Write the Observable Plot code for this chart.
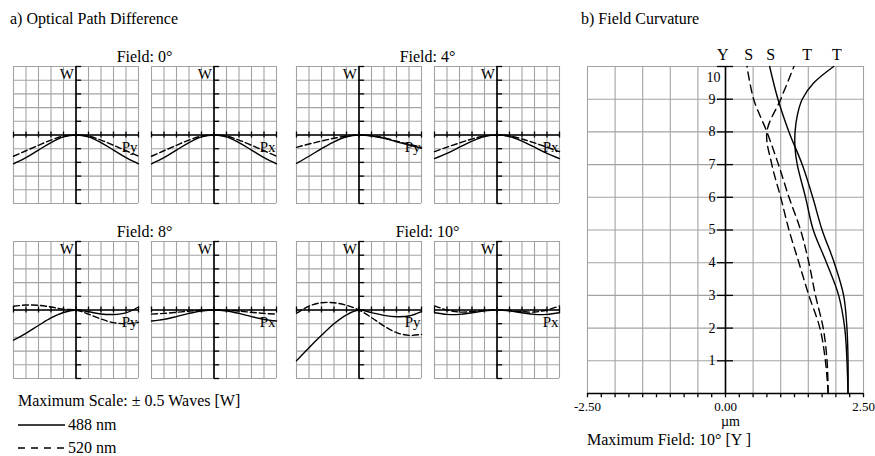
<!DOCTYPE html>
<html><head><meta charset="utf-8">
<script src="https://cdn.jsdelivr.net/npm/d3@7"></script>
<script src="https://cdn.jsdelivr.net/npm/@observablehq/plot@0.6"></script>
<style>
html,body{margin:0;padding:0;background:#fff;}
#fig{position:relative;width:875px;height:456px;overflow:hidden;font-family:"Liberation Serif","Times New Roman",serif;color:#000;}
.lbl{position:absolute;white-space:nowrap;font-size:16px;line-height:1;}
.c{transform:translate(-50%,-50%);}
.l{transform:translate(0,-50%);}
.panel{position:absolute;}
</style></head><body><div id="fig"></div>
<script>
// ---------- data ----------
const pupil = [-1, -0.8, -0.6, -0.4, -0.2, 0, 0.2, 0.4, 0.6, 0.8, 1];
const pupilGrid = [-1, -0.8, -0.6, -0.4, -0.2, 0, 0.2, 0.4, 0.6, 0.8, 1];
const waveGrid = [-0.5, -0.4, -0.3, -0.2, -0.1, 0, 0.1, 0.2, 0.3, 0.4, 0.5];
const fieldTitles = ["Field: 0°", "Field: 4°", "Field: 8°", "Field: 10°"];

// OPD (waves) vs pupil coordinate, 488 nm (solid) and 520 nm (dashed)
const f0Py488 = [-0.21, -0.165, -0.11, -0.055, -0.014, 0, -0.014, -0.055, -0.11, -0.165, -0.21];
const f0Py520 = [-0.155, -0.115, -0.075, -0.037, -0.008, 0, -0.008, -0.037, -0.075, -0.115, -0.155];
const f0Px488 = [-0.21, -0.165, -0.11, -0.055, -0.014, 0, -0.014, -0.055, -0.11, -0.165, -0.21];
const f0Px520 = [-0.155, -0.115, -0.075, -0.037, -0.008, 0, -0.008, -0.037, -0.075, -0.115, -0.155];
const f4Py488 = [-0.207, -0.155, -0.1, -0.05, -0.013, 0, -0.007, -0.024, -0.049, -0.073, -0.097];
const f4Py520 = [-0.09, -0.066, -0.044, -0.024, -0.007, 0, -0.005, -0.02, -0.045, -0.068, -0.09];
const f4Px488 = [-0.172, -0.134, -0.089, -0.045, -0.011, 0, -0.011, -0.045, -0.089, -0.134, -0.172];
const f4Px520 = [-0.122, -0.089, -0.058, -0.029, -0.006, 0, -0.006, -0.029, -0.058, -0.089, -0.122];
const f8Py488 = [-0.22, -0.17, -0.113, -0.058, -0.018, 0, -0.013, -0.029, -0.033, -0.021, 0.022];
const f8Py520 = [0.027, 0.036, 0.034, 0.022, 0.006, 0, -0.03, -0.066, -0.092, -0.1, -0.09];
const f8Px488 = [-0.08, -0.068, -0.048, -0.025, -0.007, 0, -0.007, -0.025, -0.048, -0.068, -0.08];
const f8Px520 = [-0.03, -0.025, -0.017, -0.008, -0.002, 0, -0.002, -0.008, -0.017, -0.025, -0.03];
const f10Py488 = [-0.37, -0.275, -0.185, -0.1, -0.035, 0, -0.019, -0.039, -0.049, -0.044, -0.012];
const f10Py520 = [-0.024, 0.029, 0.053, 0.053, 0.034, 0, -0.055, -0.117, -0.165, -0.185, -0.178];
const f10Px488 = [-0.02, -0.032, -0.032, -0.02, -0.006, 0, -0.006, -0.02, -0.032, -0.032, -0.02];
const f10Px520 = [0.03, 0.0, -0.015, -0.012, -0.004, 0, -0.004, -0.012, -0.015, 0.0, 0.03];

// Field curvature (µm) vs field (deg)
const fieldDeg = [0, 1, 2, 3, 4, 5, 6, 7, 8, 9, 10];
const fieldHalf = [0, 1, 2, 3, 4, 5, 6, 7, 7.5, 8, 8.5, 9, 9.5, 10];
const sag488 = [2.22, 2.22, 2.20, 2.14, 1.97, 1.75, 1.58, 1.39, 1.15, 0.95, 0.80];
const tan488 = [2.22, 2.20, 2.16, 2.05, 1.83, 1.59, 1.45, 1.30, 1.26, 1.26, 1.30, 1.39, 1.60, 1.96];
const sag520 = [1.86, 1.84, 1.77, 1.63, 1.51, 1.36, 1.15, 0.96, 0.75, 0.51, 0.39];
const tan520 = [1.86, 1.81, 1.71, 1.51, 1.33, 1.15, 1.0, 0.84, 0.75, 1.0, 1.24];
const umGrid = [-2.5, -2, -1.5, -1, -0.5, 0, 0.5, 1, 1.5, 2, 2.5];
const umTicks = d3.range(-2.5, 2.5001, 0.25);
const umLabels = [-2.5, 0, 2.5];
const fieldTicks = [1, 2, 3, 4, 5, 6, 7, 8, 9, 10];
const headerLabels = ["Y", "S", "S", "T", "T"];
const headerAt = [-0.05, 0.42, 0.82, 1.48, 2.02];

// ---------- layout ----------
const fig = document.getElementById("fig");
const FONT = '"Liberation Serif","Times New Roman",serif';
function label(text, x, y, cls, size) {
  const d = document.createElement("div");
  d.className = "lbl " + cls;
  d.style.left = x + "px"; d.style.top = y + "px";
  if (size) d.style.fontSize = size + "px";
  d.textContent = text;
  fig.appendChild(d);
}
function place(node, x, y) {
  node.classList.add("panel");
  node.style.left = x + "px"; node.style.top = y + "px";
  fig.appendChild(node);
}

const GRID = "#a3a3a3";
function opdPanel(w488, w520, axisName) {
  const p488 = pupil.map((p, i) => ({p, w: w488[i]}));
  const p520 = pupil.map((p, i) => ({p, w: w520[i]}));
  return Plot.plot({
    width: 125, height: 137, margin: 0,
    style: {overflow: "visible", background: "transparent", fontFamily: FONT},
    x: {domain: [-1, 1], axis: null},
    y: {domain: [-0.5, 0.5], axis: null},
    marks: [
      Plot.ruleX(pupilGrid, {stroke: GRID, strokeWidth: 1.1}),
      Plot.ruleY(waveGrid, {stroke: GRID, strokeWidth: 1.1}),
      Plot.ruleY([0], {stroke: "#000", strokeWidth: 1.6}),
      Plot.ruleX([0], {stroke: "#000", strokeWidth: 1.6}),
      Plot.ruleX(pupilGrid, {x: d => d, y1: -0.022, y2: 0.022, stroke: "#000", strokeWidth: 1.3}),
      Plot.ruleY(waveGrid, {y: d => d, x1: 0, x2: 0.09, stroke: "#000", strokeWidth: 1.3}),
      Plot.line(p488, {x: "p", y: "w", curve: "catmull-rom", stroke: "#000", strokeWidth: 1.4}),
      Plot.line(p520, {x: "p", y: "w", curve: "catmull-rom", stroke: "#000", strokeWidth: 1.4, strokeDasharray: "6,3"}),
      Plot.text(["W"], {x: 0, frameAnchor: "top", text: d => d, dx: -2, dy: 8, textAnchor: "end", lineAnchor: "middle", fontSize: 15, fill: "#000"}),
      Plot.text([axisName], {x: 1, y: -0.09, text: d => d, dx: -1, textAnchor: "end", fontSize: 15, fill: "#000"})
    ]
  });
}

const panels = [
  [f0Py488, f0Py520, "Py"], [f0Px488, f0Px520, "Px"], [f4Py488, f4Py520, "Py"], [f4Px488, f4Px520, "Px"],
  [f8Py488, f8Py520, "Py"], [f8Px488, f8Px520, "Px"], [f10Py488, f10Py520, "Py"], [f10Px488, f10Px520, "Px"]
];
const panelLeft = [13, 151, 296, 434];
const panelTop = [66, 241];
panels.forEach((d, i) => {
  place(opdPanel(d[0], d[1], d[2]), panelLeft[i % 4], panelTop[Math.floor(i / 4)]);
});
fieldTitles.forEach((t, i) => {
  const col = (i % 2) * 2;
  const cx = (panelLeft[col] + panelLeft[col + 1] + 125) / 2;
  label(t, cx, panelTop[Math.floor(i / 2)] - 9, "c", 16);
});

label("a) Optical Path Difference", 10, 19, "l", 16);
label("b) Field Curvature", 581, 19, "l", 16);
label("Maximum Scale: ± 0.5 Waves [W]", 18, 401, "l", 16);
label("488 nm", 68, 425, "l", 16);
label("520 nm", 68, 448, "l", 16);

// legend swatches
const ns = "http://www.w3.org/2000/svg";
const sw = document.createElementNS(ns, "svg");
sw.setAttribute("width", 60); sw.setAttribute("height", 40);
sw.style.position = "absolute"; sw.style.left = "10px"; sw.style.top = "415px";
[[10, null], [33, "7,6"]].forEach(([y, dash]) => {
  const l = document.createElementNS(ns, "line");
  l.setAttribute("x1", 8); l.setAttribute("x2", 55); l.setAttribute("y1", y); l.setAttribute("y2", y);
  l.setAttribute("stroke", "#000"); l.setAttribute("stroke-width", 1.6);
  if (dash) l.setAttribute("stroke-dasharray", dash);
  sw.appendChild(l);
});
fig.appendChild(sw);

// field curvature
const fc = Plot.plot({
  width: 336, height: 427, marginLeft: 40, marginRight: 20, marginTop: 40, marginBottom: 60,
  style: {overflow: "visible", background: "transparent", fontFamily: FONT},
  x: {domain: [-2.5, 2.5], axis: null},
  y: {domain: [0, 10], axis: null},
  marks: [
    Plot.ruleX(umGrid, {stroke: GRID, strokeWidth: 1.1}),
    Plot.ruleY(fieldDeg, {stroke: GRID, strokeWidth: 1.1}),
    Plot.ruleX([0], {y1: 0, y2: 10, stroke: "#000", strokeWidth: 1.6}),
    Plot.ruleY([0], {stroke: "#000", strokeWidth: 1.6}),
    Plot.ruleX(umTicks, {x: d => d, y1: 0, y2: -0.13, stroke: "#000", strokeWidth: 1.3}),
    Plot.ruleY(fieldTicks, {y: d => d, x1: -0.145, x2: 0.145, stroke: "#000", strokeWidth: 1.3}),
    Plot.text(fieldTicks.filter(d => d < 10), {x: 0, y: d => d, text: d => String(d), dx: -10, textAnchor: "end", fontSize: 14, fill: "#000"}),
    Plot.text(fieldTicks.filter(d => d === 10), {x: 0, y: d => d, text: d => String(d), dx: -5, dy: 11, textAnchor: "end", fontSize: 14, fill: "#000"}),
    Plot.text(umLabels, {x: d => d, y: 0, text: d => d.toFixed(2), dy: 13, fontSize: 13, fill: "#000"}),
    Plot.text(["µm"], {x: 0, y: 0, text: d => d, dx: 5, dy: 28, fontSize: 14, fill: "#000"}),
    Plot.text(headerLabels, {x: (d, i) => headerAt[i], y: 10, text: d => d, dy: -12, fontSize: 16, fill: "#000"}),
    Plot.line(fieldDeg.map((f, i) => ({f, v: sag488[i]})), {x: "v", y: "f", curve: "catmull-rom", stroke: "#000", strokeWidth: 1.4}),
    Plot.line(fieldHalf.map((f, i) => ({f, v: tan488[i]})), {x: "v", y: "f", curve: "catmull-rom", stroke: "#000", strokeWidth: 1.4}),
    Plot.line(fieldDeg.map((f, i) => ({f, v: sag520[i]})), {x: "v", y: "f", curve: "catmull-rom", stroke: "#000", strokeWidth: 1.4, strokeDasharray: "8,5"}),
    Plot.line(fieldDeg.map((f, i) => ({f, v: tan520[i]})), {x: "v", y: "f", curve: "catmull-rom", stroke: "#000", strokeWidth: 1.4, strokeDasharray: "8,5"})
  ]
});
place(fc, 547, 26);
label("Maximum Field: 10° [Y ]", 587, 440, "l", 16);
</script></body></html>
